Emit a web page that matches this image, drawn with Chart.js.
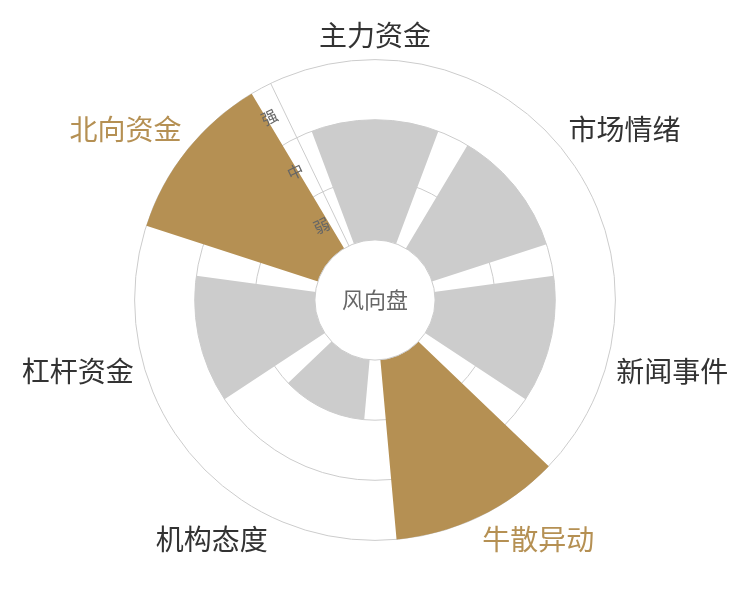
<!doctype html>
<html lang="zh">
  <head>
    <meta charset="utf-8">
    <title>风向盘</title>
    <script src="https://cdn.jsdelivr.net/npm/chart.js"></script>
    <style>
      html, body { margin: 0; padding: 0; background: #fff; }
      #wrap { width: 750px; height: 600px; }
    </style>
  </head>
  <body>
  <div id="wrap"><canvas id="windChart"></canvas></div>

  <script>
    const categories = ['主力资金', '市场情绪', '新闻事件', '牛散异动', '机构态度', '杠杆资金', '北向资金'];
    const values = [2, 2, 2, 3, 1, 2, 3];
    const levels = ['弱', '中', '强'];

    const gold = '#b59053';
    const grey = '#cccccc';
    const fontFamily = '"Noto Sans CJK SC", "Noto Sans", sans-serif';

    // each category band = bar (80%) + gap (20%), like a polar bar chart
    const band = 360 / categories.length;
    const barAngle = band * 0.8;
    const gapAngle = band - barAngle;

    const sliceValues = [-1];
    const sliceAngles = [gapAngle / 2];
    const sliceColors = ['transparent'];
    categories.forEach((c, i) => {
      sliceValues.push(values[i]);
      sliceAngles.push(barAngle);
      sliceColors.push(values[i] === levels.length ? gold : grey);
      sliceValues.push(-1);
      sliceAngles.push(i < categories.length - 1 ? gapAngle : gapAngle / 2);
      sliceColors.push('transparent');
    });

    // labels sit on the band centres, the empty ones on the band borders
    const pointLabels = [];
    categories.forEach(c => { pointLabels.push(''); pointLabels.push(c); });

    const catColor = idx => {
      if (idx % 2 === 0) return 'transparent';
      const v = values[(idx - 1) / 2];
      return v === levels.length ? gold : '#333333';
    };

    const centerDisc = {
      id: 'centerDisc',
      afterDatasetsDraw(chart) {
        const s = chart.scales.r;
        const r0 = s.getDistanceFromCenterForValue(0);
        const ctx = chart.ctx;
        ctx.save();
        ctx.beginPath();
        ctx.arc(s.xCenter, s.yCenter, r0, 0, Math.PI * 2);
        ctx.fillStyle = '#fff';
        ctx.fill();
        ctx.strokeStyle = '#cccccc';
        ctx.lineWidth = 1;
        ctx.stroke();
        ctx.fillStyle = '#666666';
        ctx.font = '22px ' + fontFamily;
        ctx.textAlign = 'center';
        ctx.textBaseline = 'middle';
        ctx.fillText('风向盘', s.xCenter, s.yCenter);
        ctx.restore();
      }
    };

    const ctx = document.getElementById('windChart').getContext('2d');
    new Chart(ctx, {
      type: 'polarArea',
      data: {
        labels: pointLabels,
        datasets: [{
          data: sliceValues,
          angle: sliceAngles,
          backgroundColor: sliceColors,
          borderWidth: 0
        }]
      },
      options: {
        responsive: true,
        maintainAspectRatio: false,
        animation: false,
        layout: { padding: { top: 6, bottom: 32 } },
        scales: {
          r: {
            min: -1,
            max: levels.length,
            startAngle: -band / 2,
            afterBuildTicks: scale => {
              const t = [];
              for (let v = -1; v <= levels.length; v++) {
                t.push({ value: v });
                if (v >= 0 && v < levels.length) t.push({ value: v + 0.5 });
              }
              scale.ticks = t;
            },
            grid: {
              circular: true,
              color: '#cccccc',
              lineWidth: c => (Number.isInteger(c.tick.value) && c.tick.value >= 1 ? 1 : 0)
            },
            angleLines: {
              display: true,
              color: '#cccccc',
              lineWidth: c => (c.index === 0 ? 1 : 0)
            },
            ticks: {
              z: 1,
              showLabelBackdrop: false,
              color: '#666666',
              font: { size: 16, family: fontFamily },
              callback: v => {
                const i = Math.floor(v);
                return v - i === 0.5 ? levels[i] + '\u3000\u3000' : '';
              }
            },
            pointLabels: {
              display: true,
              padding: -3,
              color: c => catColor(c.index),
              font: c => (c.index % 2 === 1 ? { size: 28, family: fontFamily } : { size: 1 })
            }
          }
        },
        plugins: {
          legend: { display: false },
          tooltip: { enabled: false }
        }
      },
      plugins: [centerDisc]
    });
  </script>
  </body>
</html>
